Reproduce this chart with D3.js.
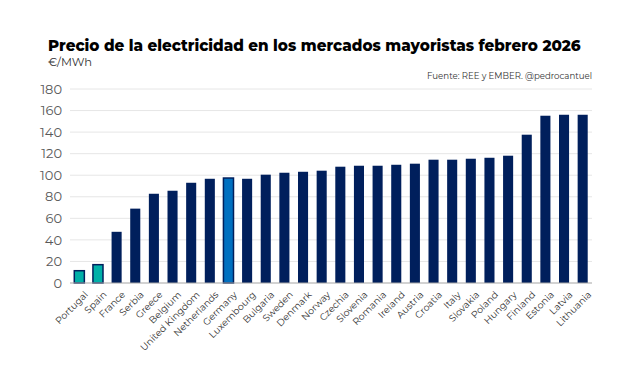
<!DOCTYPE html>
<html>
<head>
<meta charset="utf-8">
<script src="https://cdn.jsdelivr.net/npm/d3@7"></script>
<style>
  body { margin: 0; background: #fff; }
  text { font-family: 'Montserrat', 'Noto Sans', sans-serif; }
</style>
</head>
<body>
<script>
const countries = ['Portugal', 'Spain', 'France', 'Serbia', 'Greece', 'Belgium', 'United Kingdom', 'Netherlands',
    'Germany', 'Luxembourg', 'Bulgaria', 'Sweden', 'Denmark', 'Norway', 'Czechia', 'Slovenia', 'Romania',
    'Ireland', 'Austria', 'Croatia', 'Italy', 'Slovakia', 'Poland', 'Hungary', 'Finland', 'Estonia', 'Latvia', 'Lithuania'];
const prices = [11.4, 17, 47.5, 69, 82.8, 85.6, 93, 96.7,
    97.4, 96.7, 100.5, 102.3, 103.2, 104.2, 107.9, 108.8, 108.8,
    109.7, 110.7, 114.4, 114.4, 115.3, 116.2, 118.1, 137.6, 155.2, 156.1, 156.1];
const yTicks = [0, 20, 40, 60, 80, 100, 120, 140, 160, 180];
const iberia = ['Portugal', 'Spain'];
const highlight = ['Germany'];

const width = 635;
const height = 375;
const marginLeft = 70;
const marginRight = 43;
const marginTop = 89;
const marginBottom = 92;

const svg = d3.select('body')
    .append('svg')
    .attr('width', width)
    .attr('height', height);

// title block
svg.append('text')
    .attr('x', 48).attr('y', 51)
    .attr('font-size', 15.2)
    .attr('font-weight', 800)
    .attr('fill', '#000')
    .text('Precio de la electricidad en los mercados mayoristas febrero 2026');

svg.append('text')
    .attr('x', 48).attr('y', 66)
    .attr('font-size', 11.5)
    .attr('fill', '#333')
    .text('€/MWh');

svg.append('text')
    .attr('x', 592).attr('y', 79)
    .attr('text-anchor', 'end')
    .attr('font-size', 8.6)
    .attr('fill', '#333')
    .text('Fuente: REE y EMBER. @pedrocantuel');

const x = d3.scaleBand()
    .domain(countries)
    .range([marginLeft, width - marginRight])
    .paddingInner(0.46)
    .paddingOuter(0.23);

const y = d3.scaleLinear()
    .domain([0, 180])
    .range([height - marginBottom, marginTop]);

// grid lines
svg.selectAll('line.grid')
    .data(yTicks.slice(1))
    .enter()
    .append('line')
    .attr('class', 'grid')
    .attr('x1', marginLeft)
    .attr('x2', width - marginRight)
    .attr('y1', d => y(d))
    .attr('y2', d => y(d))
    .attr('stroke', '#e6e6e6')
    .attr('stroke-width', 1);

// y axis labels
const yAxis = d3.axisLeft(y).tickValues(yTicks).tickSize(0).tickPadding(8);
const gy = svg.append('g')
    .attr('transform', `translate(${marginLeft},0)`)
    .call(yAxis);
gy.select('.domain').remove();
gy.selectAll('text')
    .attr('font-size', 13)
    .attr('fill', '#595959')
    .attr('font-family', "'Noto Sans', sans-serif");

// bars
const colorFor = c => iberia.includes(c) ? '#00b0a8' : highlight.includes(c) ? '#0070c0' : '#001f5c';

svg.selectAll('rect.bar')
    .data(countries)
    .enter()
    .append('rect')
    .attr('class', 'bar')
    .attr('x', d => x(d))
    .attr('width', x.bandwidth())
    .attr('y', (d, i) => y(prices[i]))
    .attr('height', (d, i) => y(0) - y(prices[i]))
    .attr('fill', d => colorFor(d))
    .attr('stroke', d => (iberia.includes(d) || highlight.includes(d)) ? '#001f5c' : 'none')
    .attr('stroke-width', 1.5);

// x axis
const xAxis = d3.axisBottom(x).tickSize(0).tickPadding(6);
const gx = svg.append('g')
    .attr('transform', `translate(0,${y(0)})`)
    .call(xAxis);
gx.select('.domain')
    .attr('stroke', '#a6a6a6')
    .attr('stroke-width', 1.2)
    .attr('d', `M${marginLeft},0H${width - marginRight}`);
gx.selectAll('text')
    .attr('font-size', 9.5)
    .attr('fill', '#333')
    .attr('font-family', "'Noto Sans', sans-serif")
    .attr('text-anchor', 'end')
    .attr('dy', '0.3em')
    .attr('transform', 'translate(3,6) rotate(-45)');
</script>
</body>
</html>
